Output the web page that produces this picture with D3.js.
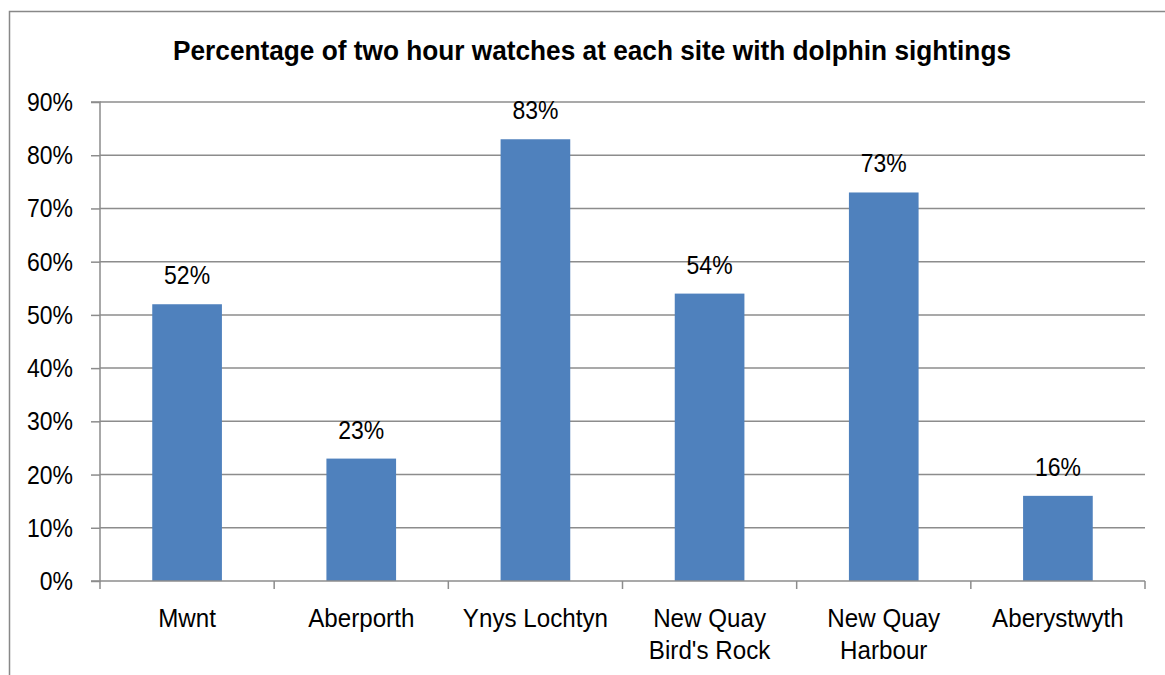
<!DOCTYPE html>
<html><head><meta charset="utf-8">
<script src="https://cdn.jsdelivr.net/npm/d3@7"></script>
<style>body{margin:0;background:#fff}svg{display:block}</style>
</head><body>
<script>
const categories = [["Mwnt"],["Aberporth"],["Ynys Lochtyn"],["New Quay","Bird's Rock"],["New Quay","Harbour"],["Aberystwyth"]];
const values = [52, 23, 83, 54, 73, 16];
const yTicks = [0,10,20,30,40,50,60,70,80,90];
const title = "Percentage of two hour watches at each site with dolphin sightings";

const W = 1165, H = 675;
const font = "'Liberation Sans',Arial,sans-serif";
const svg = d3.select("body").append("svg").attr("width", W).attr("height", H);

svg.append("path").attr("d", `M9.5,${H} V11.5 H${W}`).attr("fill","none").attr("stroke","#888").attr("stroke-width",1.5);

const x0 = 100, x1 = 1145, yTop = 102, yBot = 581;
const x = d3.scaleBand().domain(d3.range(categories.length)).range([x0, x1]).paddingInner(0.6).paddingOuter(0.3);
const y = d3.scaleLinear().domain([0, 90]).range([yBot, yTop]);

function addText(g, tx, ty, str, size, sx, anchor, bold) {
  return g.append("text").attr("transform", `translate(${tx},${ty}) scale(${sx},1)`)
    .attr("text-anchor", anchor).attr("font-family", font).attr("font-size", size)
    .attr("font-weight", bold ? "bold" : "normal").attr("fill", "#000").text(str);
}

addText(svg, 592, 60, title, 27, 0.972, "middle", true);

// gridlines
svg.append("g").selectAll("line").data(yTicks.filter(d=>d>0)).join("line")
  .attr("x1", x0).attr("x2", x1).attr("y1", d=>y(d)).attr("y2", d=>y(d))
  .attr("stroke","#8c8c8c").attr("stroke-width",1.5);

// bars
svg.append("g").selectAll("rect").data(values).join("rect")
  .attr("x", (d,i)=>x(i)).attr("width", x.bandwidth())
  .attr("y", d=>y(d)).attr("height", d=>yBot - y(d)).attr("fill","#4F81BD");

// y axis
const yAxis = d3.axisLeft(y).tickValues(yTicks).tickSize(9).tickFormat("");
const gy = svg.append("g").attr("transform",`translate(${x0},0)`).call(yAxis);
gy.select(".domain").attr("stroke","#8c8c8c").attr("stroke-width",1.5).attr("d",`M-9,${yTop}H0V${yBot}H-9`);
gy.selectAll(".tick line").attr("stroke","#8c8c8c").attr("stroke-width",1.5);
const yl = svg.append("g");
yTicks.forEach(t => addText(yl, 73, y(t) + 9, t + "%", 25, 0.92, "end", false));

// x axis line and ticks
const step = (x1 - x0) / categories.length;
const bounds = d3.range(categories.length + 1).map(i => x0 + i*step);
svg.append("line").attr("x1",x0).attr("x2",x1).attr("y1",yBot).attr("y2",yBot).attr("stroke","#8c8c8c").attr("stroke-width",1.5);
svg.append("g").selectAll("line").data(bounds).join("line")
  .attr("x1",d=>d).attr("x2",d=>d).attr("y1",yBot).attr("y2",yBot+8).attr("stroke","#8c8c8c").attr("stroke-width",1.5);

// x labels
const xg = svg.append("g");
categories.forEach((lines, i) => {
  lines.forEach((t, j) => addText(xg, x(i) + x.bandwidth()/2, 627 + j*32, t, 26, 0.93, "middle", false));
});

// value labels
const vg = svg.append("g");
values.forEach((v, i) => addText(vg, x(i) + x.bandwidth()/2, y(v) - 20, v + "%", 25, 0.92, "middle", false));
</script>
</body></html>
